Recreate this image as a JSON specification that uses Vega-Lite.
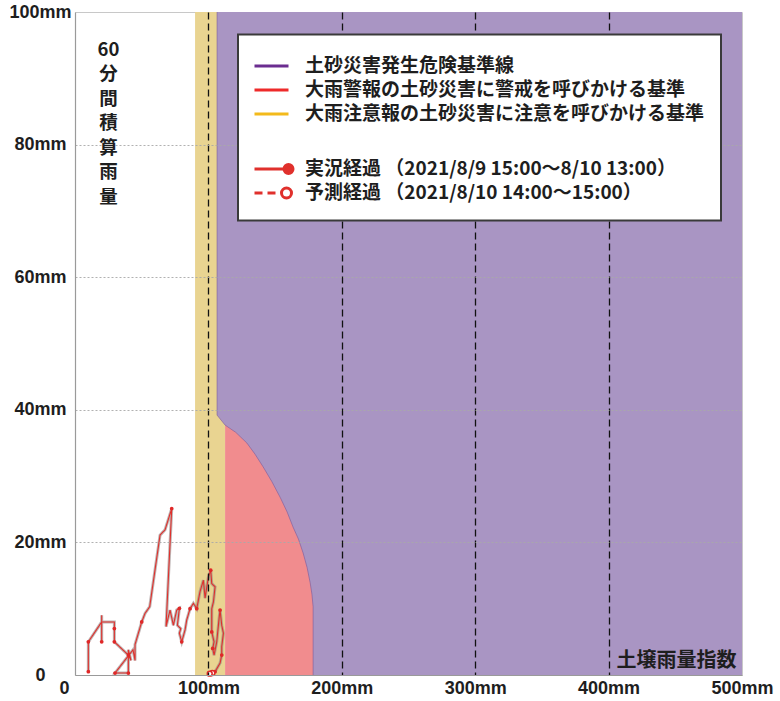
{
  "$schema": "https://vega.github.io/schema/vega-lite/v6.json",
  "width": 667,
  "height": 663,
  "autosize": {"type": "none"},
  "padding": {"left": 75, "top": 12, "right": 38, "bottom": 26},
  "background": "white",
  "config": {"view": {"stroke": "#C8C8C8", "strokeWidth": 1}},
  "datasets": {
    "zones": [
      {"zone": "advisory", "soil0": 90, "soil1": 112.5, "rain0": 0, "rain1": 100},
      {"zone": "warning", "soil0": 112.5, "soil1": 180, "rain0": 0, "rain1": 37.7}
    ],
    "cl": [
      {"soil": 178.5, "rain": 0},
      {"soil": 178.5, "rain": 10.3},
      {"soil": 177.6, "rain": 12.2},
      {"soil": 176.3, "rain": 13.9},
      {"soil": 174, "rain": 16.2},
      {"soil": 171, "rain": 18.4},
      {"soil": 167.5, "rain": 20.5},
      {"soil": 163.5, "rain": 22.3},
      {"soil": 159, "rain": 24.6},
      {"soil": 153.8, "rain": 26.8},
      {"soil": 147.5, "rain": 29.2},
      {"soil": 141, "rain": 31.4},
      {"soil": 135, "rain": 33.3},
      {"soil": 128.8, "rain": 35.0},
      {"soil": 120.5, "rain": 36.6},
      {"soil": 112.5, "rain": 37.7},
      {"soil": 106.5, "rain": 39.2},
      {"soil": 106.5, "rain": 100}
    ],
    "snake": [
      {"seq": 1, "soil": 10, "rain": 0.5, "series": "実況経過 （2021/8/9 15:00～8/10 13:00）", "hourly": true},
      {"seq": 2, "soil": 10, "rain": 5, "series": "実況経過 （2021/8/9 15:00～8/10 13:00）", "hourly": true},
      {"seq": 3, "soil": 20, "rain": 8, "series": "実況経過 （2021/8/9 15:00～8/10 13:00）", "hourly": false},
      {"seq": 4, "soil": 20, "rain": 9, "series": "実況経過 （2021/8/9 15:00～8/10 13:00）", "hourly": false},
      {"seq": 5, "soil": 20, "rain": 5, "series": "実況経過 （2021/8/9 15:00～8/10 13:00）", "hourly": true},
      {"seq": 6, "soil": 20, "rain": 8, "series": "実況経過 （2021/8/9 15:00～8/10 13:00）", "hourly": false},
      {"seq": 7, "soil": 29.5, "rain": 8, "series": "実況経過 （2021/8/9 15:00～8/10 13:00）", "hourly": false},
      {"seq": 8, "soil": 29.5, "rain": 7, "series": "実況経過 （2021/8/9 15:00～8/10 13:00）", "hourly": true},
      {"seq": 9, "soil": 29.5, "rain": 5, "series": "実況経過 （2021/8/9 15:00～8/10 13:00）", "hourly": true},
      {"seq": 10, "soil": 40, "rain": 3, "series": "実況経過 （2021/8/9 15:00～8/10 13:00）", "hourly": true},
      {"seq": 11, "soil": 42, "rain": 2.2, "series": "実況経過 （2021/8/9 15:00～8/10 13:00）", "hourly": false},
      {"seq": 12, "soil": 40, "rain": 3.8, "series": "実況経過 （2021/8/9 15:00～8/10 13:00）", "hourly": false},
      {"seq": 13, "soil": 40, "rain": 0.3, "series": "実況経過 （2021/8/9 15:00～8/10 13:00）", "hourly": true},
      {"seq": 14, "soil": 30, "rain": 0.3, "series": "実況経過 （2021/8/9 15:00～8/10 13:00）", "hourly": true},
      {"seq": 15, "soil": 43.5, "rain": 3.8, "series": "実況経過 （2021/8/9 15:00～8/10 13:00）", "hourly": false},
      {"seq": 16, "soil": 45, "rain": 2.2, "series": "実況経過 （2021/8/9 15:00～8/10 13:00）", "hourly": false},
      {"seq": 17, "soil": 45, "rain": 4.6, "series": "実況経過 （2021/8/9 15:00～8/10 13:00）", "hourly": false},
      {"seq": 18, "soil": 50, "rain": 8, "series": "実況経過 （2021/8/9 15:00～8/10 13:00）", "hourly": true},
      {"seq": 19, "soil": 52.5, "rain": 9.3, "series": "実況経過 （2021/8/9 15:00～8/10 13:00）", "hourly": false},
      {"seq": 20, "soil": 56, "rain": 10.3, "series": "実況経過 （2021/8/9 15:00～8/10 13:00）", "hourly": false},
      {"seq": 21, "soil": 63.75, "rain": 21.1, "series": "実況経過 （2021/8/9 15:00～8/10 13:00）", "hourly": false},
      {"seq": 22, "soil": 67.5, "rain": 21.9, "series": "実況経過 （2021/8/9 15:00～8/10 13:00）", "hourly": false},
      {"seq": 23, "soil": 72.5, "rain": 25.1, "series": "実況経過 （2021/8/9 15:00～8/10 13:00）", "hourly": true},
      {"seq": 24, "soil": 68.25, "rain": 7.3, "series": "実況経過 （2021/8/9 15:00～8/10 13:00）", "hourly": false},
      {"seq": 25, "soil": 71.25, "rain": 9.8, "series": "実況経過 （2021/8/9 15:00～8/10 13:00）", "hourly": false},
      {"seq": 26, "soil": 73.75, "rain": 7.5, "series": "実況経過 （2021/8/9 15:00～8/10 13:00）", "hourly": false},
      {"seq": 27, "soil": 76.25, "rain": 9.8, "series": "実況経過 （2021/8/9 15:00～8/10 13:00）", "hourly": false},
      {"seq": 28, "soil": 78.25, "rain": 10.05, "series": "実況経過 （2021/8/9 15:00～8/10 13:00）", "hourly": true},
      {"seq": 29, "soil": 76.75, "rain": 7.5, "series": "実況経過 （2021/8/9 15:00～8/10 13:00）", "hourly": false},
      {"seq": 30, "soil": 79.25, "rain": 7.0, "series": "実況経過 （2021/8/9 15:00～8/10 13:00）", "hourly": false},
      {"seq": 31, "soil": 78.25, "rain": 6.3, "series": "実況経過 （2021/8/9 15:00～8/10 13:00）", "hourly": false},
      {"seq": 32, "soil": 80, "rain": 5, "series": "実況経過 （2021/8/9 15:00～8/10 13:00）", "hourly": true},
      {"seq": 33, "soil": 82.5, "rain": 6.8, "series": "実況経過 （2021/8/9 15:00～8/10 13:00）", "hourly": false},
      {"seq": 34, "soil": 83.75, "rain": 8.3, "series": "実況経過 （2021/8/9 15:00～8/10 13:00）", "hourly": false},
      {"seq": 35, "soil": 86.25, "rain": 10, "series": "実況経過 （2021/8/9 15:00～8/10 13:00）", "hourly": true},
      {"seq": 36, "soil": 88.75, "rain": 10.8, "series": "実況経過 （2021/8/9 15:00～8/10 13:00）", "hourly": false},
      {"seq": 37, "soil": 91.25, "rain": 10, "series": "実況経過 （2021/8/9 15:00～8/10 13:00）", "hourly": true},
      {"seq": 38, "soil": 93.75, "rain": 12.6, "series": "実況経過 （2021/8/9 15:00～8/10 13:00）", "hourly": false},
      {"seq": 39, "soil": 96.25, "rain": 14.3, "series": "実況経過 （2021/8/9 15:00～8/10 13:00）", "hourly": false},
      {"seq": 40, "soil": 97.5, "rain": 11.6, "series": "実況経過 （2021/8/9 15:00～8/10 13:00）", "hourly": false},
      {"seq": 41, "soil": 100, "rain": 14.8, "series": "実況経過 （2021/8/9 15:00～8/10 13:00）", "hourly": false},
      {"seq": 42, "soil": 101.75, "rain": 15.8, "series": "実況経過 （2021/8/9 15:00～8/10 13:00）", "hourly": true},
      {"seq": 43, "soil": 102.5, "rain": 13.8, "series": "実況経過 （2021/8/9 15:00～8/10 13:00）", "hourly": false},
      {"seq": 44, "soil": 105, "rain": 13.3, "series": "実況経過 （2021/8/9 15:00～8/10 13:00）", "hourly": false},
      {"seq": 45, "soil": 103.75, "rain": 11, "series": "実況経過 （2021/8/9 15:00～8/10 13:00）", "hourly": false},
      {"seq": 46, "soil": 102.5, "rain": 10, "series": "実況経過 （2021/8/9 15:00～8/10 13:00）", "hourly": false},
      {"seq": 47, "soil": 102.5, "rain": 6.5, "series": "実況経過 （2021/8/9 15:00～8/10 13:00）", "hourly": true},
      {"seq": 48, "soil": 104.25, "rain": 5, "series": "実況経過 （2021/8/9 15:00～8/10 13:00）", "hourly": false},
      {"seq": 49, "soil": 103.25, "rain": 4, "series": "実況経過 （2021/8/9 15:00～8/10 13:00）", "hourly": true},
      {"seq": 50, "soil": 104.25, "rain": 3, "series": "実況経過 （2021/8/9 15:00～8/10 13:00）", "hourly": false},
      {"seq": 51, "soil": 106.25, "rain": 5, "series": "実況経過 （2021/8/9 15:00～8/10 13:00）", "hourly": false},
      {"seq": 52, "soil": 108.25, "rain": 9, "series": "実況経過 （2021/8/9 15:00～8/10 13:00）", "hourly": false},
      {"seq": 53, "soil": 108.75, "rain": 9.8, "series": "実況経過 （2021/8/9 15:00～8/10 13:00）", "hourly": true},
      {"seq": 54, "soil": 110, "rain": 7.5, "series": "実況経過 （2021/8/9 15:00～8/10 13:00）", "hourly": false},
      {"seq": 55, "soil": 111.25, "rain": 6.3, "series": "実況経過 （2021/8/9 15:00～8/10 13:00）", "hourly": false},
      {"seq": 56, "soil": 110, "rain": 4.3, "series": "実況経過 （2021/8/9 15:00～8/10 13:00）", "hourly": false},
      {"seq": 57, "soil": 110, "rain": 3, "series": "実況経過 （2021/8/9 15:00～8/10 13:00）", "hourly": true},
      {"seq": 58, "soil": 108.75, "rain": 1.8, "series": "実況経過 （2021/8/9 15:00～8/10 13:00）", "hourly": false},
      {"seq": 59, "soil": 105, "rain": 0.5, "series": "実況経過 （2021/8/9 15:00～8/10 13:00）", "hourly": true},
      {"seq": 59, "soil": 105, "rain": 0.5, "series": "予測経過 （2021/8/10 14:00～15:00）", "hourly": false},
      {"seq": 60, "soil": 103, "rain": 0.3, "series": "予測経過 （2021/8/10 14:00～15:00）", "hourly": true},
      {"seq": 61, "soil": 101, "rain": 0.2, "series": "予測経過 （2021/8/10 14:00～15:00）", "hourly": true}
    ]
  },
  "layer": [
    {
      "data": {"name": "zones"},
      "mark": {"type": "rect"},
      "encoding": {
        "x": {
          "field": "soil0", "type": "quantitative",
          "scale": {"domain": [0, 500], "nice": false, "zero": false},
          "axis": {
            "title": "土壌雨量指数",
            "titleFont": "Noto Sans CJK JP", "titleFontSize": 20, "titleFontWeight": "bold", "titleColor": "#1E1E1E",
            "titleAlign": "right", "titleAngle": 0, "titleX": 661, "titleY": -9, "titleBaseline": "alphabetic",
            "values": [0, 100, 200, 300, 400, 500],
            "labelExpr": "datum.value == 0 ? '0' : datum.value + 'mm'",
            "labelFont": "Liberation Sans", "labelFontSize": 18, "labelFontWeight": "bold", "labelColor": "#1E1E1E",
            "labelPadding": 4, "labelFlush": false, "labelOverlap": false, "labelBound": false,
            "labelOffset": {"condition": {"test": "datum.value == 0", "value": -11}, "value": 0},
            "ticks": false, "tickSize": 0,
            "domainColor": "#9A9A9A", "domainWidth": 1.2,
            "grid": true, "gridColor": "#111111", "gridDash": [7, 4], "gridWidth": 1.3,
            "gridOpacity": {"condition": {"test": "datum.value == 0 || datum.value == 500", "value": 0}, "value": 1},
            "zindex": 1
          }
        },
        "x2": {"field": "soil1"},
        "y": {
          "field": "rain0", "type": "quantitative",
          "scale": {"domain": [0, 100], "nice": false},
          "axis": {
            "title": ["60", "分", "間", "積", "算", "雨", "量"],
            "titleAngle": 0, "titleAlign": "center", "titleBaseline": "top", "titleX": 33, "titleY": 28,
            "titleFont": "Noto Sans CJK JP", "titleFontSize": 18.5, "titleFontWeight": "bold", "titleLineHeight": 24.5, "titleColor": "#1E1E1E",
            "values": [0, 20, 40, 60, 80, 100],
            "labelExpr": "datum.value == 0 ? '0' : datum.value + 'mm'",
            "labelAlign": "center", "labelBaseline": "middle", "labelPadding": 35, "labelFlush": false, "labelOverlap": false,
            "labelFont": "Liberation Sans", "labelFontSize": 18, "labelFontWeight": "bold", "labelColor": "#1E1E1E",
            "ticks": false, "tickSize": 0,
            "domainColor": "#9A9A9A", "domainWidth": 1.2,
            "grid": true, "gridColor": "#A8A8A8", "gridDash": [2, 2], "gridWidth": 1,
            "gridOpacity": {"condition": {"test": "datum.value == 0 || datum.value == 100", "value": 0}, "value": 0.9},
            "zindex": 1
          }
        },
        "y2": {"field": "rain1"},
        "fill": {
          "field": "zone", "type": "nominal",
          "scale": {"domain": ["advisory", "warning"], "range": ["#E9D491", "#F18C8E"]},
          "legend": null
        }
      }
    },
    {
      "data": {"name": "cl"},
      "mark": {"type": "area", "orient": "horizontal", "color": "#A995C3", "opacity": 1},
      "encoding": {
        "x": {"field": "soil", "type": "quantitative", "stack": null},
        "x2": {"datum": 500},
        "y": {"field": "rain", "type": "quantitative"}
      }
    },
    {
      "data": {"name": "cl"},
      "mark": {"type": "line", "color": "#7A5A9C", "strokeWidth": 1, "opacity": 0.6},
      "encoding": {
        "x": {"field": "soil", "type": "quantitative"},
        "y": {"field": "rain", "type": "quantitative"},
        "order": {"field": "rain"}
      }
    },
    {
      "data": {"name": "snake"},
      "transform": [{"filter": "indexof(datum.series, '実況') >= 0"}],
      "mark": {"type": "line", "color": "#958383", "strokeWidth": 3, "opacity": 0.6},
      "encoding": {
        "x": {"field": "soil", "type": "quantitative"},
        "y": {"field": "rain", "type": "quantitative"},
        "order": {"field": "seq"}
      }
    },
    {
      "data": {"name": "snake"},
      "mark": {"type": "line", "strokeWidth": 1.1},
      "encoding": {
        "x": {"field": "soil", "type": "quantitative"},
        "y": {"field": "rain", "type": "quantitative"},
        "order": {"field": "seq"},
        "strokeDash": {
          "field": "series", "type": "nominal",
          "scale": {"domain": ["実況経過 （2021/8/9 15:00～8/10 13:00）", "予測経過 （2021/8/10 14:00～15:00）"], "range": [[1, 0], [4, 3]]},
          "legend": null
        },
        "color": {
          "field": "series", "type": "nominal",
          "scale": {
            "domain": ["土砂災害発生危険基準線", "大雨警報の土砂災害に警戒を呼びかける基準", "大雨注意報の土砂災害に注意を呼びかける基準", " ", "実況経過 （2021/8/9 15:00～8/10 13:00）", "予測経過 （2021/8/10 14:00～15:00）"],
            "range": ["#6B2D90", "#EE2A2A", "#F3BA1B", "rgba(0,0,0,0)", "#E0302C", "#E0302C"]
          },
          "legend": {
            "title": " ",
            "titleFontSize": 4, "titlePadding": 0,
            "orient": "none", "legendX": 163, "legendY": 22.5,
            "direction": "vertical",
            "padding": 16,
            "fillColor": "white", "strokeColor": "#3A3A3A",
            "symbolType": "stroke", "symbolSize": 400, "symbolStrokeWidth": 3, "symbolOffset": 6,
            "labelFont": "Noto Sans CJK JP", "labelFontSize": 19, "labelFontWeight": "bold", "labelColor": "#1E1E1E",
            "labelLimit": 800, "labelOffset": 22, "rowPadding": 2,
            "zindex": 2,
            "encode": {
              "legend": {"update": {"strokeWidth": {"value": 2}}},
              "symbols": {"update": {
                "shape": {"signal": "indexof(datum.value, '実況') >= 0 ? 'M-1.7,0H1.25M2.15,0A0.45,0.45,0,1,1,1.25,0A0.45,0.45,0,1,1,2.15,0Z' : indexof(datum.value, '予測') >= 0 ? 'M-1.7,0H-0.9M-0.4,0H0.4M2,0A0.5,0.5,0,1,1,1,0A0.5,0.5,0,1,1,2,0Z' : 'M-1.7,0H1.7'"},
                "fill": {"signal": "indexof(datum.value, '実況') >= 0 ? '#E0302C' : indexof(datum.value, '予測') >= 0 ? '#FFFFFF' : 'transparent'"}
              }},
              "labels": {"update": {"fontSize": {"signal": "datum.value === ' ' ? 28 : 19"}}}
            }
          }
        }
      }
    },
    {
      "data": {"name": "snake"},
      "transform": [{"filter": "datum.hourly && indexof(datum.series, '実況') >= 0"}],
      "mark": {"type": "point", "filled": true, "color": "#E02828", "size": 14, "opacity": 1},
      "encoding": {
        "x": {"field": "soil", "type": "quantitative"},
        "y": {"field": "rain", "type": "quantitative"}
      }
    },
    {
      "data": {"name": "snake"},
      "transform": [{"filter": "datum.hourly && indexof(datum.series, '予測') >= 0"}],
      "mark": {"type": "point", "filled": false, "stroke": "#E02828", "fill": "#FFFFFF", "fillOpacity": 1, "size": 24, "strokeWidth": 1.5, "opacity": 1},
      "encoding": {
        "x": {"field": "soil", "type": "quantitative"},
        "y": {"field": "rain", "type": "quantitative"}
      }
    }
  ]
}
